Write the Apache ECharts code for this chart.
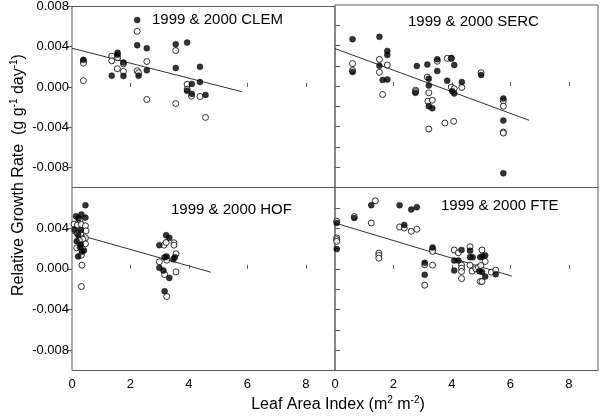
<!DOCTYPE html>
<html>
<head>
<meta charset="utf-8">
<script src="https://cdn.jsdelivr.net/npm/echarts@6/dist/echarts.min.js"></script>
<style>html,body{margin:0;padding:0;background:#fff}#c{width:600px;height:420px}</style>
</head>
<body>
<div id="c"></div>
<script>
// ---- data (x = Leaf Area Index, y = Relative Growth Rate) ----
var clemFilled = [[2.23,0.00665],[2.23,0.00415],[2.56,0.00385],[2.56,0.00165],[2.28,0.00112],[0.39,0.0027],[1.36,0.00112],[1.56,0.00339],[1.56,0.0032],[1.76,0.00243],[1.76,0.00109],[3.55,0.00424],[3.55,0.00188],[3.94,0.00441],[3.94,-0.00039],[4.10,0.0003],[4.10,-0.00069],[4.38,0.002],[4.38,0.00049],[4.57,-0.00079]];
var clemOpen = [[2.23,0.00553],[2.56,0.00253],[2.23,0.00161],[2.28,0.00141],[2.56,-0.00125],[0.39,0.00257],[0.39,0.00237],[0.39,0.00063],[1.36,0.00306],[1.36,0.0026],[1.56,0.0029],[1.55,0.00181],[1.76,0.0023],[1.76,0.00155],[3.55,0.00362],[3.55,-0.00165],[3.94,0.00026],[3.94,-0.00023],[4.09,-0.00092],[4.38,-0.00095],[4.57,-0.00303]];
var clemLine = [[0,0.00385],[5.83,-0.00049]];

var sercFilled = [[0.6,0.00463],[0.6,0.00139],[1.52,0.00486],[1.52,0.00202],[1.63,0.0006],[1.79,0.00347],[1.79,0.00307],[1.79,0.00066],[2.8,0.00198],[2.75,-0.00066],[3.16,0.00212],[3.21,0.00073],[3.21,0.00007],[3.21,-0.00198],[3.33,-0.00218],[3.5,0.00264],[3.5,0.00149],[3.84,0.00053],[3.98,0.00278],[4.08,0.00208],[4.01,-0.0005],[4.08,-0.00073],[4.34,0.0004],[5.0,0.00109],[5.76,-0.00122],[5.76,-0.0034],[5.76,-0.0086]];
var sercOpen = [[0.6,0.00222],[0.6,0.00155],[1.52,0.00264],[1.52,0.00136],[1.63,-0.00083],[1.79,0.00208],[2.76,-0.0004],[2.76,-0.00053],[3.16,0.00089],[3.21,-0.00066],[3.18,-0.00149],[3.33,-0.00139],[3.21,-0.00423],[3.5,0.00245],[3.84,0.00274],[3.76,-0.00364],[3.98,0.00272],[3.98,-0.0001],[4.08,-0.00026],[4.06,-0.00347],[4.34,-0.00013],[5.0,0.00132],[5.76,-0.00145],[5.76,-0.00198],[5.76,-0.00453],[5.76,-0.00463]];
var sercLine = [[0,0.0037],[6.64,-0.00337]];

var hofFilled = [[0.46,0.00626],[0.14,0.00518],[0.32,0.00535],[0.46,0.00505],[0.22,0.00495],[0.09,0.00384],[0.30,0.0038],[0.21,0.00331],[0.16,0.00272],[0.30,0.00239],[0.27,0.00213],[0.41,0.0018],[0.34,0.00167],[0.21,0.00121],[3.22,0.00331],[3.33,0.00305],[2.99,0.00233],[3.52,0.00115],[3.47,0.00095],[3.17,0.00115],[3.24,0.00121],[2.99,0.0001],[3.13,-0.00016],[3.33,-0.00089],[3.17,-0.0022]];
var hofOpen = [[0.27,0.00482],[0.07,0.0044],[0.18,0.0043],[0.32,0.00436],[0.46,0.00423],[0.48,0.00374],[0.18,0.00351],[0.30,0.00344],[0.46,0.00305],[0.37,0.00292],[0.25,0.00279],[0.46,0.00246],[0.16,0.00207],[0.32,0.00134],[0.34,0.00036],[0.32,-0.00174],[3.15,0.00233],[3.22,0.00259],[3.49,0.00256],[3.49,0.00233],[3.56,0.00148],[3.24,0.00085],[2.99,0.00069],[3.17,-0.00056],[3.56,-0.0003],[3.24,-0.00272]];
var hofLine = [[0,0.00353],[4.75,-0.00033]];

var fteFilled = [[0.06,0.00451],[0.06,0.00194],[0.66,0.00501],[1.24,0.00626],[2.21,0.00626],[2.37,0.00432],[2.61,0.00583],[2.8,0.00606],[3.07,0.00059],[3.07,-0.00059],[3.34,0.00211],[4.08,0.00082],[4.08,-0.00016],[4.22,0.00082],[4.33,0.00185],[4.62,0.00178],[4.62,0.00115],[4.71,0.00115],[4.97,0.00115],[5.05,0.00125],[5.14,0.00132],[4.94,-0.00023],[5.03,-0.0003],[5.14,-0.00076],[5.5,-0.00053]];
var fteOpen = [[0.06,0.00468],[0.06,0.00303],[0.06,0.00287],[0.06,0.0027],[0.66,0.00514],[1.38,0.00669],[1.24,0.00451],[1.5,0.00155],[1.5,0.00132],[1.5,0.00105],[2.21,0.00412],[2.37,0.00402],[2.61,0.00369],[2.8,0.00389],[3.07,0.0004],[3.07,-0.00161],[3.34,0.00191],[3.34,0.00171],[3.34,0.00036],[4.08,0.00185],[4.22,0.00158],[4.33,0.00036],[4.33,0.00007],[4.33,-0.00026],[4.33,-0.00096],[4.62,0.00217],[4.62,0.00036],[4.69,-0.00023],[4.82,0],[4.91,0.00016],[5.03,0.00185],[5.14,0.00072],[4.99,0.00033],[4.97,-0.00125],[5.03,-0.00125],[5.35,-0.00033],[5.5,-0.00013]];
var fteLine = [[0,0.00451],[6.05,-0.00072]];

var panelTitles = ['1999 & 2000 CLEM', '1999 & 2000 SERC', '1999 & 2000 HOF', '1999 & 2000 FTE'];
var xTickLabels = [0, 2, 4, 6, 8];
var yLabelsTop = [-0.008, -0.004, 0, 0.004, 0.008];
var yLabelsBottom = [-0.008, -0.004, 0, 0.004];
var yMinorTicks = [-0.008, -0.006, -0.004, -0.002, 0, 0.002, 0.004, 0.006];

// ---- chart ----
var FONT = "'Liberation Sans', Arial, Helvetica, sans-serif";
var AX = '#5a5a5a';
var grids = [
  {left: 72, top: 5, width: 263, height: 182.5},
  {left: 335, top: 5, width: 263, height: 182.5},
  {left: 72, top: 187.5, width: 263, height: 183},
  {left: 335, top: 187.5, width: 263, height: 183}
].map(function (g) {
  return Object.assign({show: true, borderColor: AX, borderWidth: 1, backgroundColor: 'transparent'}, g);
});

function xAx(gi, showLabels) {
  return {
    type: 'value', gridIndex: gi, min: 0, max: 9, interval: 2,
    axisLine: {show: false}, splitLine: {show: false},
    axisTick: {show: true, inside: true, length: 4, customValues: [2, 4, 6, 8], lineStyle: {color: AX}},
    axisLabel: {show: showLabels, customValues: xTickLabels, color: '#000', fontSize: 13, fontFamily: FONT, margin: 7}
  };
}
function yAx(gi, left, labels) {
  return {
    type: 'value', gridIndex: gi, min: -0.010, max: 0.008, interval: 0.002,
    axisLine: {show: false}, splitLine: {show: false},
    axisTick: left
      ? {show: true, inside: false, length: 5, customValues: labels, lineStyle: {color: AX}}
      : {show: true, inside: true, length: 5, customValues: yMinorTicks, lineStyle: {color: AX}},
    axisLabel: left
      ? {show: true, customValues: labels, color: '#000', fontSize: 13, fontFamily: FONT, margin: 3,
         formatter: function (v) { return v.toFixed(3); }}
      : {show: false}
  };
}

function scatter(gi, data, filled) {
  return {
    type: 'scatter', xAxisIndex: gi, yAxisIndex: gi, data: data,
    symbol: 'circle', symbolSize: 6, silent: true,
    itemStyle: filled ? {color: '#000', borderColor: '#000', borderWidth: 0.5}
                      : {color: '#fff', borderColor: '#000', borderWidth: 1}
  };
}
function fitLine(gi, data) {
  return {
    type: 'line', xAxisIndex: gi, yAxisIndex: gi, data: data, symbol: 'none', silent: true,
    lineStyle: {color: '#333', width: 1}, z: 1
  };
}

var titlePos = [[152, 20], [408, 22], [171, 210], [441, 206]];
var graphics = titlePos.map(function (p, i) {
  return {type: 'text', x: p[0], y: p[1], silent: true,
    style: {text: panelTitles[i], fill: '#000', font: '15px ' + FONT, align: 'left', verticalAlign: 'middle'}};
});
var supStyle = {fontSize: 10, fontFamily: FONT, fill: '#000', verticalAlign: 'top', lineHeight: 11};
graphics.push({
  type: 'text', x: 19, y: 175, rotation: Math.PI / 2, silent: true,
  style: {text: 'Relative Growth Rate  (g g{s|-1} day{s|-1})', fill: '#000', fontSize: 16, fontFamily: FONT,
    lineHeight: 20, align: 'center', verticalAlign: 'middle', rich: {s: supStyle}}
});
graphics.push({
  type: 'text', x: 338, y: 405, silent: true,
  style: {text: 'Leaf Area Index (m{s|2} m{s|-2})', fill: '#000', fontSize: 16, fontFamily: FONT,
    lineHeight: 20, align: 'center', verticalAlign: 'middle', rich: {s: supStyle}}
});

var chart = echarts.init(document.getElementById('c'), null, {renderer: 'canvas'});
chart.setOption({
  animation: false,
  backgroundColor: '#fff',
  grid: grids,
  xAxis: [xAx(0, false), xAx(1, false), xAx(2, true), xAx(3, true)],
  yAxis: [yAx(0, true, yLabelsTop), yAx(1, false), yAx(2, true, yLabelsBottom), yAx(3, false)],
  series: [
    fitLine(0, clemLine), scatter(0, clemOpen, false), scatter(0, clemFilled, true),
    fitLine(1, sercLine), scatter(1, sercOpen, false), scatter(1, sercFilled, true),
    fitLine(2, hofLine), scatter(2, hofOpen, false), scatter(2, hofFilled, true),
    fitLine(3, fteLine), scatter(3, fteOpen, false), scatter(3, fteFilled, true)
  ],
  graphic: graphics
});
</script>
</body>
</html>
